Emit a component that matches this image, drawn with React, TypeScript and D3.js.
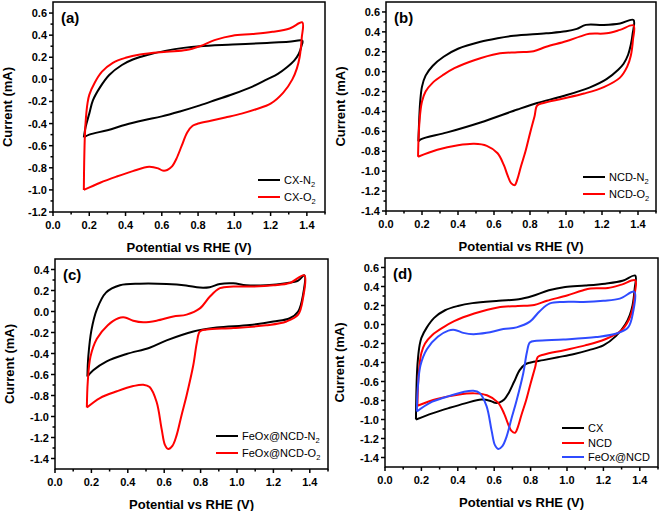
import React from 'react';
import * as d3 from 'd3';

type Pt = [number, number];

// x ticks shared by all panels (Potential vs RHE, V)
const xTicks = [0, 0.2, 0.4, 0.6, 0.8, 1.0, 1.2, 1.4];
const yTicksA = [-1.2, -1.0, -0.8, -0.6, -0.4, -0.2, 0, 0.2, 0.4, 0.6];
const yTicksB = [-1.4, -1.2, -1.0, -0.8, -0.6, -0.4, -0.2, 0, 0.2, 0.4, 0.6];
const yTicksC = [-1.4, -1.2, -1.0, -0.8, -0.6, -0.4, -0.2, 0, 0.2, 0.4];
const yTicksD = [-1.4, -1.2, -1.0, -0.8, -0.6, -0.4, -0.2, 0, 0.2, 0.4, 0.6];

// CX in N2
const cxN2: Pt[] = [
  [0.17, -0.525], [0.18, -0.43], [0.2, -0.31], [0.22, -0.19], [0.26, -0.07], [0.31, 0.04],
  [0.38, 0.13], [0.44, 0.18], [0.53, 0.225], [0.625, 0.26], [0.72, 0.285], [0.81, 0.30],
  [0.99, 0.315], [1.18, 0.33], [1.3, 0.34], [1.375, 0.35], [1.37, 0.3], [1.355, 0.23],
  [1.33, 0.17], [1.29, 0.11], [1.24, 0.05], [1.18, 0.0], [1.10, -0.065], [0.99, -0.135],
  [0.9, -0.185], [0.81, -0.235], [0.7, -0.29], [0.6, -0.335], [0.5, -0.37], [0.4, -0.41],
  [0.3, -0.46], [0.2, -0.5], [0.17, -0.525],
];
// CX in O2
const cxO2: Pt[] = [
  [0.17, -1.0], [0.172, -0.75], [0.176, -0.5], [0.182, -0.34], [0.19, -0.22], [0.2, -0.14],
  [0.23, -0.03], [0.27, 0.07], [0.33, 0.15], [0.4, 0.195], [0.48, 0.225], [0.625, 0.25],
  [0.735, 0.265], [0.81, 0.30], [0.9, 0.36], [0.99, 0.395], [1.10, 0.41], [1.21, 0.43],
  [1.305, 0.46], [1.375, 0.515], [1.372, 0.38], [1.36, 0.2], [1.345, 0.1], [1.32, 0.0],
  [1.27, -0.12], [1.2, -0.22], [1.12, -0.27], [1.04, -0.31], [0.95, -0.345], [0.87, -0.375],
  [0.8, -0.4], [0.77, -0.42], [0.74, -0.48], [0.71, -0.6], [0.68, -0.72], [0.655, -0.79],
  [0.63, -0.82], [0.605, -0.825], [0.58, -0.805], [0.53, -0.79], [0.44, -0.83], [0.35, -0.88],
  [0.26, -0.935], [0.17, -1.0],
];
// NCD in N2
const ncdN2: Pt[] = [
  [0.18, -0.7], [0.184, -0.5], [0.19, -0.3], [0.2, -0.15], [0.22, -0.04], [0.26, 0.06],
  [0.32, 0.15], [0.40, 0.23], [0.525, 0.3], [0.62, 0.335], [0.71, 0.36], [0.89, 0.385],
  [1.0, 0.405], [1.06, 0.43], [1.11, 0.47], [1.21, 0.47], [1.30, 0.485], [1.375, 0.52],
  [1.37, 0.38], [1.36, 0.27], [1.345, 0.17], [1.32, 0.08], [1.29, 0.02], [1.225, -0.075],
  [1.13, -0.16], [0.985, -0.245], [0.84, -0.315], [0.73, -0.38], [0.525, -0.51],
  [0.34, -0.61], [0.193, -0.68], [0.18, -0.7],
];
// NCD in O2
const ncdO2: Pt[] = [
  [0.178, -0.855], [0.182, -0.62], [0.19, -0.42], [0.2, -0.3], [0.22, -0.2], [0.26, -0.11],
  [0.32, -0.03], [0.38, 0.035], [0.49, 0.115], [0.62, 0.18], [0.73, 0.195], [0.82, 0.205],
  [0.89, 0.25], [1.0, 0.305], [1.08, 0.355], [1.13, 0.38], [1.225, 0.385], [1.30, 0.42],
  [1.375, 0.465], [1.372, 0.32], [1.36, 0.16], [1.34, 0.05], [1.30, -0.06], [1.21, -0.155],
  [1.10, -0.22], [0.985, -0.27], [0.875, -0.315], [0.84, -0.34], [0.825, -0.45],
  [0.8, -0.62], [0.775, -0.8], [0.75, -0.95], [0.73, -1.08], [0.715, -1.14], [0.695, -1.12],
  [0.675, -1.04], [0.655, -0.94], [0.62, -0.82], [0.56, -0.745], [0.49, -0.725], [0.40, -0.74],
  [0.285, -0.785], [0.178, -0.855],
];
// FeOx@NCD in N2
const feN2: Pt[] = [
  [0.178, -0.62], [0.183, -0.43], [0.2, -0.18], [0.23, 0.02], [0.28, 0.18], [0.357, 0.25],
  [0.467, 0.265], [0.613, 0.262], [0.72, 0.248], [0.796, 0.228], [0.85, 0.232], [0.906, 0.262],
  [0.98, 0.268], [1.05, 0.25], [1.16, 0.25], [1.27, 0.27], [1.336, 0.295], [1.37, 0.345],
  [1.363, 0.16], [1.336, 0.0], [1.29, -0.064], [1.2, -0.095], [1.07, -0.128], [0.888, -0.153],
  [0.76, -0.19], [0.613, -0.275], [0.52, -0.345], [0.393, -0.405], [0.284, -0.475],
  [0.21, -0.56], [0.178, -0.62],
];
// FeOx@NCD in O2
const feO2: Pt[] = [
  [0.175, -0.915], [0.18, -0.67], [0.195, -0.43], [0.23, -0.26], [0.29, -0.13],
  [0.348, -0.064], [0.384, -0.057], [0.43, -0.088], [0.485, -0.103], [0.558, -0.088],
  [0.65, -0.048], [0.723, -0.03], [0.796, 0.03], [0.85, 0.14], [0.906, 0.222], [0.98, 0.238],
  [1.09, 0.238], [1.2, 0.25], [1.29, 0.272], [1.37, 0.345], [1.363, 0.13], [1.336, -0.03],
  [1.272, -0.095], [1.16, -0.132], [0.98, -0.158], [0.833, -0.172], [0.796, -0.19],
  [0.78, -0.29], [0.76, -0.51], [0.723, -0.8], [0.695, -0.99], [0.668, -1.18], [0.645, -1.28],
  [0.622, -1.31], [0.604, -1.27], [0.586, -1.12], [0.558, -0.86], [0.52, -0.72],
  [0.485, -0.697], [0.43, -0.71], [0.34, -0.76], [0.247, -0.824], [0.175, -0.915],
];

const BLACK = '#000000';
const RED = '#ff0000';
const BLUE = '#2f4bff';

type Series = { data: Pt[]; color: string; label: string; sub?: string };
type Panel = {
  tag: string;
  left: number; right: number; top: number; bottom: number;
  yDomain: [number, number];
  yTicks: number[];
  series: Series[];
  legendX: number;
  legendY: number[];
};

const panels: Panel[] = [
  {
    tag: '(a)', left: 53, right: 325, top: 2, bottom: 212, yDomain: [-1.2, 0.7], yTicks: yTicksA,
    series: [
      { data: cxN2, color: BLACK, label: 'CX-N', sub: '2' },
      { data: cxO2, color: RED, label: 'CX-O', sub: '2' },
    ],
    legendX: 258, legendY: [180, 197],
  },
  {
    tag: '(b)', left: 386, right: 656, top: 2, bottom: 211, yDomain: [-1.4, 0.7], yTicks: yTicksB,
    series: [
      { data: ncdN2, color: BLACK, label: 'NCD-N', sub: '2' },
      { data: ncdO2, color: RED, label: 'NCD-O', sub: '2' },
    ],
    legendX: 583, legendY: [177, 194],
  },
  {
    tag: '(c)', left: 55, right: 328, top: 259, bottom: 469, yDomain: [-1.5, 0.5], yTicks: yTicksC,
    series: [
      { data: feN2, color: BLACK, label: 'FeOx@NCD-N', sub: '2' },
      { data: feO2, color: RED, label: 'FeOx@NCD-O', sub: '2' },
    ],
    legendX: 216, legendY: [436, 453],
  },
  {
    tag: '(d)', left: 385, right: 658, top: 258, bottom: 467, yDomain: [-1.5, 0.7], yTicks: yTicksD,
    series: [
      { data: cxO2, color: BLACK, label: 'CX' },
      { data: ncdO2, color: RED, label: 'NCD' },
      { data: feO2, color: BLUE, label: 'FeOx@NCD' },
    ],
    legendX: 562, legendY: [428, 443, 457],
  },
];

const FONT = "'Liberation Sans', Arial, Helvetica, sans-serif";
const fmt = (v: number) => {
  const s = v.toFixed(1);
  return s === '-0.0' ? '0.0' : s;
};

function PanelView({ p }: { p: Panel }) {
  const x = d3.scaleLinear().domain([0, 1.5]).range([p.left, p.right]);
  const y = d3.scaleLinear().domain(p.yDomain).range([p.bottom, p.top]);
  const line = d3
    .line<Pt>()
    .x((d) => x(d[0]))
    .y((d) => y(d[1]))
    .curve(d3.curveCatmullRom.alpha(0.5));
  const xMinor = d3.range(0.1, 1.51, 0.2);
  const yMinor = p.yTicks.map((t) => t + 0.1).filter((v) => v < p.yDomain[1] - 0.001);
  const cx = (p.left + p.right) / 2;
  const cy = (p.top + p.bottom) / 2;
  return (
    <g>
      {p.series.map((s, i) => (
        <path key={i} d={line(s.data) || ''} fill="none" stroke={s.color} strokeWidth={2} strokeLinejoin="round" />
      ))}
      <rect x={p.left} y={p.top} width={p.right - p.left} height={p.bottom - p.top} fill="none" stroke="#000" strokeWidth={1.5} />
      {xTicks.map((t) => (
        <g key={'x' + t}>
          <line x1={x(t)} x2={x(t)} y1={p.bottom} y2={p.bottom + 4} stroke="#000" strokeWidth={1.5} />
          <text x={x(t)} y={p.bottom + 17} textAnchor="middle" fontSize={11} fontWeight="bold" fontFamily={FONT}>{fmt(t)}</text>
        </g>
      ))}
      {xMinor.map((t) => (
        <line key={'xm' + t} x1={x(t)} x2={x(t)} y1={p.bottom} y2={p.bottom + 2.5} stroke="#000" strokeWidth={1.5} />
      ))}
      {p.yTicks.map((t) => (
        <g key={'y' + t}>
          <line x1={p.left - 4} x2={p.left} y1={y(t)} y2={y(t)} stroke="#000" strokeWidth={1.5} />
          <text x={p.left - 6} y={y(t) + 4} textAnchor="end" fontSize={11} fontWeight="bold" fontFamily={FONT}>{fmt(t)}</text>
        </g>
      ))}
      {yMinor.map((t) => (
        <line key={'ym' + t} x1={p.left - 2.5} x2={p.left} y1={y(t)} y2={y(t)} stroke="#000" strokeWidth={1.5} />
      ))}
      <text x={p.left + 8} y={p.top + 21} fontSize={15} fontWeight="bold" fontFamily={FONT}>{p.tag}</text>
      <text x={cx} y={p.bottom + 40} textAnchor="middle" fontSize={13} fontWeight="bold" fontFamily={FONT}>Potential vs RHE (V)</text>
      <text transform={`translate(${p.left - 41},${cy}) rotate(-90)`} textAnchor="middle" fontSize={13} fontWeight="bold" fontFamily={FONT}>Current (mA)</text>
      {p.series.map((s, i) => (
        <g key={'lg' + i}>
          <line x1={p.legendX} x2={p.legendX + 22} y1={p.legendY[i]} y2={p.legendY[i]} stroke={s.color} strokeWidth={2} />
          <text x={p.legendX + 26} y={p.legendY[i] + 4} fontSize={11} fontFamily={FONT}>
            {s.label}
            {s.sub ? <tspan fontSize={7.5} dy={3}>{s.sub}</tspan> : null}
          </text>
        </g>
      ))}
    </g>
  );
}

export default function App() {
  return (
    <svg width={661} height={511} style={{ position: 'absolute', left: 0, top: 0, background: '#fff' }}>
      <rect x={0} y={0} width={661} height={511} fill="#fff" />
      {panels.map((p) => (
        <PanelView key={p.tag} p={p} />
      ))}
    </svg>
  );
}
